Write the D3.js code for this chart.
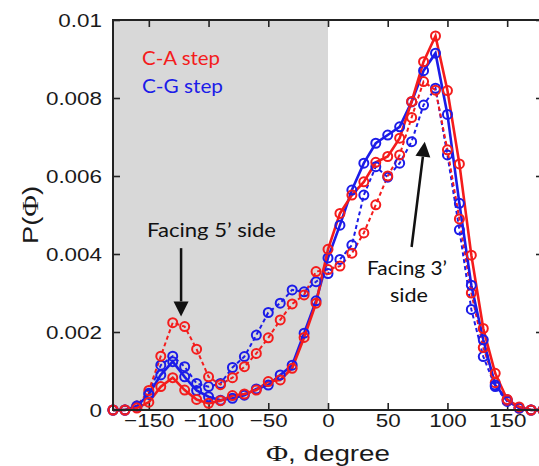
<!DOCTYPE html>
<html>
<head>
<meta charset="utf-8">
<script src="https://cdn.jsdelivr.net/npm/d3@7/dist/d3.min.js"></script>
<style>
  body { margin: 0; background: #fff; }
  svg { display: block; }
</style>
</head>
<body>
<script>
// dihedral angle bins (degree)
const phi = [-180, -170, -160, -150, -140, -130, -120, -110, -100, -90, -80, -70, -60, -50, -40, -30, -20, -10,
  0, 10, 20, 30, 40, 50, 60, 70, 80, 90, 100, 110, 120, 130, 140, 150, 160, 170, 180]

// C-A step, solid line
const caSolid = [0, 0, 0.00005, 0.0002, 0.0006, 0.00083, 0.00051, 0.00027, 0.00017, 0.00024, 0.00037, 0.00041, 0.00051, 0.00073, 0.00077, 0.00107, 0.00186, 0.00274,
  0.00412, 0.00504, 0.00551, 0.00585, 0.00635, 0.0065, 0.00697, 0.00791, 0.00893, 0.00959, 0.00819, 0.00631, 0.00397, 0.00209, 0.00094, 0.00027, 0.00008, 0, 0]
// C-A step, dashed line
const caDashed = [0, 0, 0.0001, 0.0005, 0.00138, 0.00224, 0.00214, 0.00156, 0.00085, 0.00065, 0.00083, 0.00111, 0.00145, 0.00185, 0.00231, 0.00272, 0.00295, 0.00355,
  0.0036, 0.00369, 0.00402, 0.00454, 0.00526, 0.006, 0.00654, 0.0075, 0.00842, 0.0082, 0.00667, 0.0049, 0.003, 0.0016, 0.0007, 0.00025, 0.00005, 0, 0]
// C-G step, solid line
const cgSolid = [0, 0, 0.0001, 0.0004, 0.0009, 0.00124, 0.00085, 0.0005, 0.00034, 0.00025, 0.0003, 0.00038, 0.00054, 0.00064, 0.0009, 0.00115, 0.00197, 0.0028,
  0.0039, 0.00474, 0.00564, 0.00633, 0.00684, 0.00705, 0.00726, 0.0079, 0.0087, 0.00915, 0.00758, 0.0053, 0.0032, 0.0018, 0.00064, 0.00026, 0.00005, 0, 0]
// C-G step, dashed line
const cgDashed = [0, 0, 0.0001, 0.00043, 0.00115, 0.00138, 0.00111, 0.00068, 0.0006, 0.00068, 0.00109, 0.00137, 0.00192, 0.0025, 0.00274, 0.00308, 0.00303, 0.00329,
  0.0035, 0.00386, 0.00423, 0.00551, 0.00624, 0.00597, 0.00633, 0.00688, 0.00782, 0.00825, 0.00654, 0.00462, 0.00258, 0.00137, 0.0006, 0.00022, 0.00005, 0, 0]

// tick values and labels
const xTicks = [-150, -100, -50, 0, 50, 100, 150]
const yTicks = [0, 0.002, 0.004, 0.006, 0.008, 0.01]
const yTickLabels = ['0', '0.002', '0.004', '0.006', '0.008', '0.01']

const red = '#f41c1c'
const blue = '#1c1ce8'

const w = 539
const h = 466

const xScale = d3.scaleLinear().domain([-180, 180]).range([113, 543])
const yScale = d3.scaleLinear().domain([0, 0.01]).range([410, 20])

const svg = d3.select('body')
  .append('svg')
  .attr('width', w)
  .attr('height', h)

// shaded half (phi < 0)
svg.append('rect')
  .attr('x', xScale(-180))
  .attr('y', yScale(0.01))
  .attr('width', xScale(0) - xScale(-180))
  .attr('height', yScale(0) - yScale(0.01))
  .style('fill', '#d8d8d8')

// stretch text horizontally a bit like the original
function stretch(sel, k) {
  sel.each(function () {
    const len = this.getComputedTextLength()
    d3.select(this).attr('textLength', len * k).attr('lengthAdjust', 'spacingAndGlyphs')
  })
}
function fitTo(sel, len) {
  sel.attr('textLength', len).attr('lengthAdjust', 'spacingAndGlyphs')
}

// axes, ticks pointing inward
const xAxisBottom = svg.append('g')
  .attr('transform', `translate(0,${yScale(0)})`)
  .call(d3.axisBottom(xScale).tickValues(xTicks).tickSizeInner(-7).tickSizeOuter(0).tickPadding(4))
const xAxisTop = svg.append('g')
  .attr('transform', `translate(0,${yScale(0.01)})`)
  .call(d3.axisTop(xScale).tickValues(xTicks).tickSizeInner(-7).tickSizeOuter(0).tickFormat(''))
const yAxisLeft = svg.append('g')
  .attr('transform', `translate(${xScale(-180)},0)`)
  .call(d3.axisLeft(yScale).tickValues(yTicks).tickSizeInner(-7).tickSizeOuter(0).tickPadding(11)
    .tickFormat((d, i) => yTickLabels[i]))
const yAxisRight = svg.append('g')
  .attr('transform', `translate(${xScale(180)},0)`)
  .call(d3.axisRight(yScale).tickValues(yTicks).tickSizeInner(-7).tickSizeOuter(0).tickFormat(''))

;[xAxisBottom, xAxisTop, yAxisLeft, yAxisRight].forEach(g => {
  g.select('.domain').remove()
  g.selectAll('line').attr('stroke', '#222').attr('stroke-width', 1.6)
})
;[xAxisBottom, yAxisLeft].forEach(g => {
  g.selectAll('text')
    .attr('fill', '#1a1a1a')
    .style('font-family', '"Liberation Sans", Arial, sans-serif')
    .style('font-size', '19px')
    .call(stretch, 1.18)
})

// data lines
const series = [
  { values: cgDashed, color: blue, dash: '4,3', width: 2 },
  { values: caDashed, color: red, dash: '4,3', width: 2 },
  { values: cgSolid, color: blue, dash: null, width: 2.6 },
  { values: caSolid, color: red, dash: null, width: 2.6 }
]

const line = d3.line()
  .x((d, i) => xScale(phi[i]))
  .y(d => yScale(d))

series.forEach(s => {
  svg.append('path')
    .datum(s.values)
    .attr('d', line)
    .style('fill', 'none')
    .style('stroke', s.color)
    .style('stroke-width', s.width)
    .style('stroke-dasharray', s.dash)
})
series.forEach(s => {
  svg.append('g')
    .selectAll('circle')
    .data(s.values)
    .enter()
    .append('circle')
    .attr('cx', (d, i) => xScale(phi[i]))
    .attr('cy', d => yScale(d))
    .attr('r', 4.5)
    .style('fill', 'none')
    .style('stroke', s.color)
    .style('stroke-width', 2)
})

// frame
svg.append('rect')
  .attr('x', xScale(-180))
  .attr('y', yScale(0.01))
  .attr('width', xScale(180) - xScale(-180))
  .attr('height', yScale(0) - yScale(0.01))
  .style('fill', 'none')
  .style('stroke', '#222')
  .style('stroke-width', 2)

// axis titles (Phi drawn in a serif face like the original)
const xTitle = svg.append('text')
  .attr('x', xScale(0))
  .attr('y', 461)
  .attr('text-anchor', 'middle')
  .style('font-family', '"Liberation Sans", Arial, sans-serif')
  .style('font-size', '22px')
  .attr('fill', '#1a1a1a')
xTitle.append('tspan').style('font-family', '"Liberation Serif", serif').style('font-size', '24px').text('Φ')
xTitle.append('tspan').text(', degree')
xTitle.call(fitTo, 124)

const yTitle = svg.append('text')
  .attr('transform', `translate(38,${yScale(0.005)}) rotate(-90)`)
  .attr('text-anchor', 'middle')
  .style('font-family', '"Liberation Sans", Arial, sans-serif')
  .style('font-size', '22px')
  .attr('fill', '#1a1a1a')
yTitle.append('tspan').text('P(')
yTitle.append('tspan').style('font-family', '"Liberation Serif", serif').style('font-size', '24px').text('Φ')
yTitle.append('tspan').text(')')
yTitle.call(fitTo, 58)

// legend
const legendFont = 'Lato, "Open Sans", sans-serif'
svg.append('text')
  .attr('x', 142)
  .attr('y', 65)
  .style('font-family', legendFont)
  .style('font-size', '19.5px')
  .attr('fill', red)
  .text('C-A step')
  .call(fitTo, 78)
svg.append('text')
  .attr('x', 142)
  .attr('y', 93)
  .style('font-family', legendFont)
  .style('font-size', '19.5px')
  .attr('fill', blue)
  .text('C-G step')
  .call(fitTo, 81)

// annotations
svg.append('text')
  .attr('x', 147)
  .attr('y', 237)
  .style('font-family', legendFont)
  .style('font-size', '19.5px')
  .attr('fill', '#111')
  .text('Facing 5’ side')
  .call(fitTo, 129)

svg.append('text')
  .attr('x', 367)
  .attr('y', 275)
  .style('font-family', legendFont)
  .style('font-size', '19.5px')
  .attr('fill', '#111')
  .text('Facing 3’')
  .call(fitTo, 80)
svg.append('text')
  .attr('x', 390)
  .attr('y', 302)
  .style('font-family', legendFont)
  .style('font-size', '19.5px')
  .attr('fill', '#111')
  .text('side')
  .call(fitTo, 38)

// arrows, given in data coordinates
const arrows = [
  { from: [-123, 0.00415], to: [-123, 0.0024] },
  { from: [70, 0.00418], to: [81, 0.00688] }
]
arrows.forEach(a => {
  const x1 = xScale(a.from[0]), y1 = yScale(a.from[1])
  const x2 = xScale(a.to[0]), y2 = yScale(a.to[1])
  const ang = Math.atan2(y2 - y1, x2 - x1)
  const hl = 15, hw = 7.5
  const bx = x2 - hl * Math.cos(ang), by = y2 - hl * Math.sin(ang)
  svg.append('line')
    .attr('x1', x1).attr('y1', y1)
    .attr('x2', bx).attr('y2', by)
    .style('stroke', '#111')
    .style('stroke-width', 2.5)
  svg.append('path')
    .attr('d', `M${x2},${y2}L${bx - hw * Math.sin(ang)},${by + hw * Math.cos(ang)}L${bx + hw * Math.sin(ang)},${by - hw * Math.cos(ang)}Z`)
    .style('fill', '#111')
})
</script>
</body>
</html>
